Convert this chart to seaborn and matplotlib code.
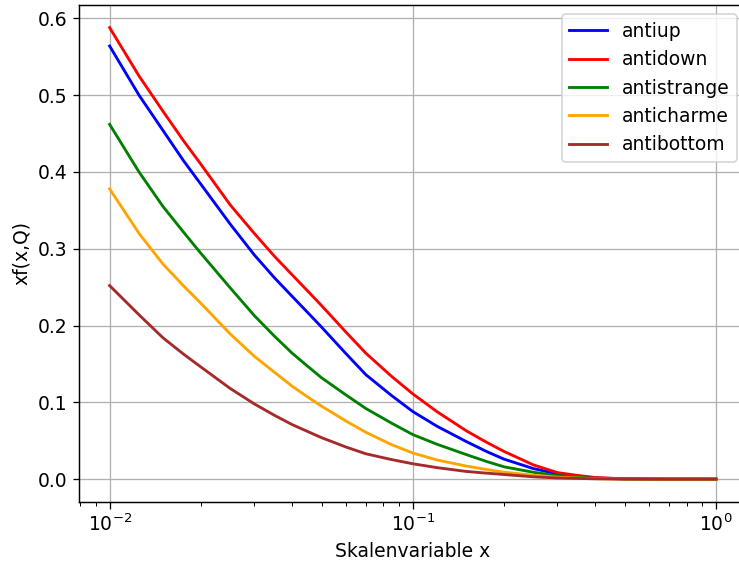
import pandas as pd
import matplotlib
matplotlib.use("Agg")
import matplotlib.pyplot as plt
import seaborn as sns

# momentum fraction x and the read-off values of xf(x,Q)
x = [0.01, 0.0125, 0.015, 0.0175, 0.02, 0.025, 0.03, 0.035, 0.04, 0.045, 0.05, 0.06, 0.07,
     0.085, 0.1, 0.12, 0.15, 0.175, 0.2, 0.25, 0.3, 0.35, 0.4, 0.5, 0.7, 1.0]

antiup = [0.564, 0.500, 0.454, 0.415, 0.384, 0.332, 0.292, 0.262, 0.238, 0.217, 0.198, 0.164, 0.136,
          0.109, 0.088, 0.069, 0.049, 0.036, 0.026, 0.0137, 0.0068, 0.0038, 0.0016, 0.0004, 0.00002, 0.0]
antidown = [0.588, 0.525, 0.479, 0.441, 0.410, 0.357, 0.320, 0.290, 0.266, 0.245, 0.226, 0.192, 0.164,
            0.134, 0.111, 0.088, 0.063, 0.048, 0.036, 0.0185, 0.0085, 0.0048, 0.0020, 0.0005, 0.00003, 0.0]
antistrange = [0.462, 0.400, 0.355, 0.322, 0.294, 0.249, 0.213, 0.186, 0.164, 0.147, 0.132, 0.110, 0.092,
               0.073, 0.058, 0.0455, 0.032, 0.023, 0.016, 0.0089, 0.0045, 0.0025, 0.0010, 0.0002, 0.00001, 0.0]
anticharme = [0.378, 0.320, 0.280, 0.252, 0.229, 0.189, 0.160, 0.139, 0.121, 0.107, 0.095, 0.076, 0.061,
              0.045, 0.034, 0.025, 0.017, 0.0125, 0.009, 0.005, 0.0025, 0.0014, 0.0006, 0.0001, 0.0, 0.0]
antibottom = [0.252, 0.214, 0.184, 0.163, 0.146, 0.118, 0.098, 0.083, 0.071, 0.062, 0.054, 0.042, 0.033,
              0.0255, 0.020, 0.015, 0.010, 0.0078, 0.006, 0.003, 0.0015, 0.0009, 0.0004, 0.0001, 0.0, 0.0]

names = ["antiup", "antidown", "antistrange", "anticharme", "antibottom"]
colors = ["blue", "red", "green", "orange", "brown"]
series = [antiup, antidown, antistrange, anticharme, antibottom]

plt.rcParams.update({
    "font.size": 11.5,
    "lines.linewidth": 1.75,
    "xtick.major.size": 4.0,
    "ytick.major.size": 4.0,
    "xtick.minor.size": 2.3,
    "axes.linewidth": 0.9,
})

dpi = 117
fig = plt.figure(figsize=(739 / dpi, 568 / dpi), dpi=dpi)
# axes run slightly past the right edge of the figure, as in the reference
ax = fig.add_axes([79.3 / 739, 1 - 501.7 / 568, 667 / 739, 496.7 / 568])

for name, col, vals in zip(names, colors, series):
    df = pd.DataFrame({"x": x, "xf": vals})
    sns.lineplot(data=df, x="x", y="xf", color=col, label=name, ax=ax)

ax.set_xscale("log")
ax.grid(True)
ax.set_xlabel("Skalenvariable x")
ax.set_ylabel("xf(x,Q)")
ax.legend(loc="upper right")

fig.savefig("out.png", dpi=dpi)
